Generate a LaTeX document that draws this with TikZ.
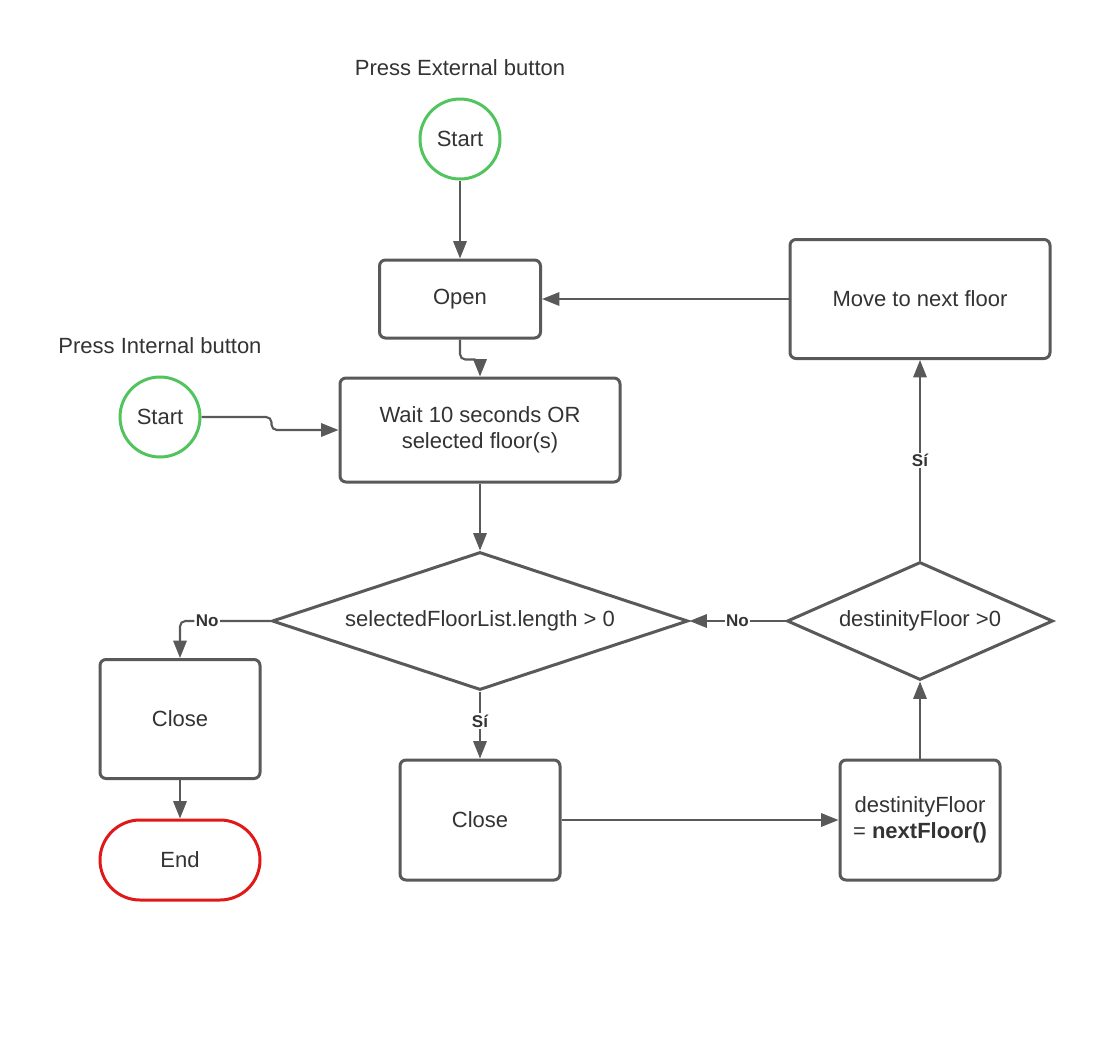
\documentclass[tikz,border=0pt]{standalone}
\usepackage{fontspec}
\setmainfont{Liberation Sans}
\usepackage{xcolor}
\usepackage{tikz}
\usetikzlibrary{arrows.meta,shapes.geometric}
\definecolor{edgegray}{RGB}{89,89,89}
\definecolor{txtgray}{RGB}{51,51,51}
\definecolor{startgreen}{RGB}{82,196,94}
\definecolor{endred}{RGB}{224,24,24}
\tikzset{
  base/.style={draw=edgegray, line width=2.25pt, fill=white, text=txtgray,
               font=\fontsize{16.5}{19.5}\selectfont, align=center, inner sep=2pt},
  stepbox/.style={base, rectangle, rounded corners=4.5pt},
  startnode/.style={base, circle, draw=startgreen, minimum size=60pt},
  endnode/.style={base, rectangle, draw=endred, rounded corners=30pt,
                  minimum width=120pt, minimum height=60pt},
  decision/.style={base, diamond, inner sep=0pt, aspect=3},
  caption/.style={text=txtgray, font=\fontsize{16.5}{19.5}\selectfont},
  lbl/.style={fill=white, text=txtgray, inner sep=1pt, font=\fontsize{12.75}{14}\selectfont\bfseries},
  fwd/.style={draw=edgegray, line width=1.6pt, -{Triangle[length=13pt,width=10pt]}},
}
\begin{document}
\begin{tikzpicture}[x=0.75pt, y=-0.75pt]
  \useasboundingbox (0,0) rectangle (1095,1040);

  % left column and top
  \node[caption] (extlbl) at (460,68) {Press External button};
  \node[startnode] (start1) at (460,139) {Start};
  \node[stepbox, minimum width=120.75pt, minimum height=58.5pt] (open) at (460,299) {Open};
  \node[caption] (intlbl) at (160,346) {Press Internal button};
  \node[startnode] (start2) at (160,417) {Start};
  \node[stepbox, minimum width=210pt, minimum height=78pt] (wait) at (480,430) {Wait 10 seconds OR\\selected floor(s)};
  \node[decision, minimum width=312pt, minimum height=103.5pt] (check) at (480,621) {selectedFloorList.length > 0};
  \node[stepbox, minimum width=120pt, minimum height=89.25pt] (close1) at (180,719) {Close};
  \node[endnode] (end) at (180,860) {End};
  \node[stepbox, minimum width=120pt, minimum height=90pt] (close2) at (480,820) {Close};

  % right column
  \node[stepbox, minimum width=120pt, minimum height=90pt] (dest) at (920,820) {destinityFloor\\= \textbf{nextFloor()}};
  \node[decision, minimum width=199.5pt, minimum height=88.5pt] (destcheck) at (920,621) {destinityFloor >0};
  \node[stepbox, minimum width=195pt, minimum height=89.25pt] (move) at (920,299) {Move to next floor};

  \draw[fwd] (start1.south) -- (open.north);
  \draw[fwd, rounded corners=4pt] (open.south) -- ++(0,20) -| (wait.north);
  \draw[fwd, rounded corners=4pt] (start2.east) -- ++(70,0) |- (wait.west);
  \draw[fwd] (wait.south) -- (check.north);
  \draw[fwd, rounded corners=4pt] (check.west) -| (close1.north) node[lbl, pos=0.35] {No};
  \draw[fwd] (close1.south) -- (end.north);
  \draw[fwd] (check.south) -- (close2.north) node[lbl, pos=0.44] {Sí};
  \draw[fwd] (close2.east) -- (dest.west);
  \draw[fwd] (dest.north) -- (destcheck.south);
  \draw[fwd] (destcheck.west) -- (check.east) node[lbl, midway] {No};
  \draw[fwd] (destcheck.north) -- (move.south) node[lbl, midway] {Sí};
  \draw[fwd] (move.west) -- (open.east);
\end{tikzpicture}
\end{document}
